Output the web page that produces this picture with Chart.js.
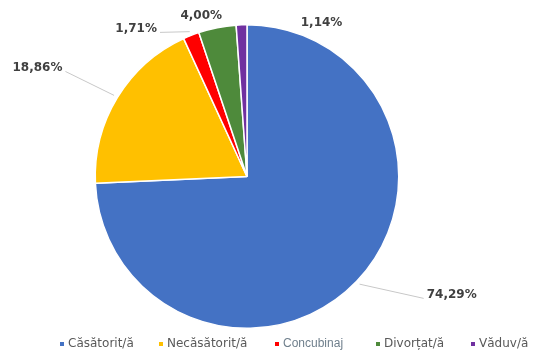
<!DOCTYPE html>
<html>
<head>
<meta charset="utf-8">
<script src="https://cdn.jsdelivr.net/npm/chart.js@4/dist/chart.umd.min.js"></script>
<style>
  html, body { margin: 0; padding: 0; background: #fff; }
  #wrap { width: 553px; height: 354px; position: relative; }
</style>
</head>
<body>
<div id="wrap"><canvas id="pieChart" width="553" height="354"></canvas></div>
<script>
const categories = ['Căsătorit/ă', 'Necăsătorit/ă', 'Concubinaj', 'Divorțat/ă', 'Văduv/ă'];
const shares = [74.29, 18.86, 1.71, 4.00, 1.14];
const sliceColors = ['#4472C4', '#FFC000', '#FF0000', '#4E8A3B', '#7030A0'];

// where each percentage sits relative to the middle of its arc edge
const labelOffsets = [[95, 13], [-80, -30], [-55, -7], [-16, -12], [80, -2]];
const leaderLines = [true, true, true, false, false];
// left edge of each legend swatch
const legendX = [60, 159, 275, 376, 471];

function fmtPct(v) {
    return v.toFixed(2).replace('.', ',') + '%';
}

const pieLabels = {
    id: 'pieLabels',
    afterDatasetsDraw(chart) {
        const ctx = chart.ctx;
        const arcs = chart.getDatasetMeta(0).data;
        ctx.save();
        ctx.font = 'bold 12px "DejaVu Sans"';
        ctx.textBaseline = 'middle';
        ctx.textAlign = 'center';
        arcs.forEach((arc, i) => {
            const p = arc.getProps(['x', 'y', 'startAngle', 'endAngle', 'outerRadius'], true);
            const mid = (p.startAngle + p.endAngle) / 2;
            const ax = p.x + Math.cos(mid) * p.outerRadius;
            const ay = p.y + Math.sin(mid) * p.outerRadius;
            const cx = ax + labelOffsets[i][0];
            const cy = ay + labelOffsets[i][1];
            const text = fmtPct(shares[i]);
            const w = ctx.measureText(text).width;

            if (leaderLines[i]) {
                const ex = cx > ax ? cx - w / 2 - 3 : cx + w / 2 + 3;
                ctx.strokeStyle = '#c8c8c8';
                ctx.lineWidth = 1;
                ctx.beginPath();
                ctx.moveTo(ax + Math.cos(mid) * 4, ay + Math.sin(mid) * 4);
                ctx.lineTo(ex, cy + 4);
                ctx.stroke();
            }
            ctx.fillStyle = '#404040';
            ctx.fillText(text, cx, cy);
        });

        // legend row along the bottom
        const y = 344;
        ctx.textAlign = 'left';
        categories.forEach((name, i) => {
            const x = legendX[i];
            ctx.fillStyle = sliceColors[i];
            ctx.fillRect(x, y - 2, 4, 4);
            if (i === 2) {
                ctx.font = '12px "Liberation Sans"';
                ctx.fillStyle = '#6f7f8c';
            } else {
                ctx.font = '12px "DejaVu Sans"';
                ctx.fillStyle = '#595959';
            }
            ctx.fillText(name, x + 8, y);
        });
        ctx.restore();
    }
};

new Chart(document.getElementById('pieChart'), {
    type: 'pie',
    data: {
        labels: categories,
        datasets: [{
            data: shares,
            backgroundColor: sliceColors,
            borderColor: '#ffffff',
            borderWidth: 1.5
        }]
    },
    options: {
        responsive: false,
        animation: false,
        layout: { padding: { left: 94, right: 153, top: 24, bottom: 25 } },
        plugins: {
            legend: { display: false },
            tooltip: { enabled: false }
        }
    },
    plugins: [pieLabels]
});
</script>
</body>
</html>
